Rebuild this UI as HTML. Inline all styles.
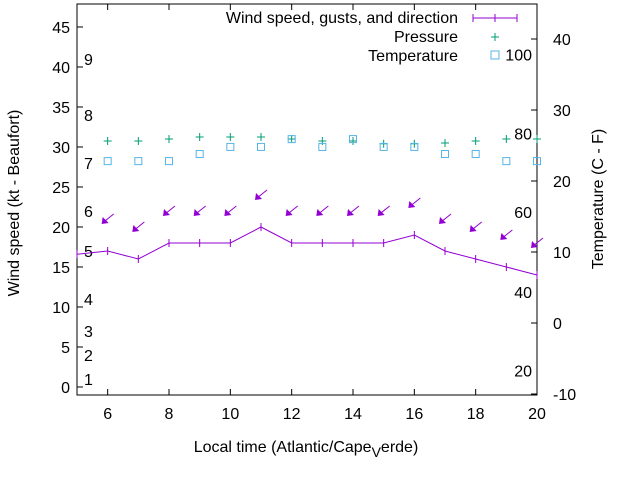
<!DOCTYPE html>
<html><head><meta charset="utf-8"><style>
body{margin:0;background:#fff}
svg{display:block;font-family:"Liberation Sans",sans-serif;font-size:16px}
</style></head><body>
<svg id="chart" width="640" height="480" viewBox="0 0 640 480">
<g id="axes"></g>
<g id="marks"></g>
<g>
<text x="458" y="23" text-anchor="end">Wind speed, gusts, and direction</text>
<line x1="473" y1="18" x2="517" y2="18" stroke="#9400d3" stroke-width="1"/>
<path d="M473 14v8M495 14v8M517 14v8" stroke="#9400d3"/>
<text x="458" y="42" text-anchor="end">Pressure</text>
<path d="M491 37h8M495 33v8" stroke="#009e73"/>
<text x="458" y="61" text-anchor="end">Temperature</text>
<rect x="491" y="51" width="8" height="8" fill="none" stroke="#56b4e9"/>
</g>
<text x="306" y="452" text-anchor="middle">Local time (Atlantic/Cape<tspan dy="5" font-size="14">V</tspan><tspan dy="-5">erde)</tspan></text>
<text transform="translate(19,203) rotate(-90)" text-anchor="middle">Wind speed (kt - Beaufort)</text>
<text transform="translate(603,199) rotate(-90)" text-anchor="middle">Temperature (C - F)</text>
</svg>
<script>
const hours=[6,7,8,9,10,11,12,13,14,15,16,17,18,19,20];
const windHours=[5,6,7,8,9,10,11,12,13,14,15,16,17,18,19,20];
const windSpeed=[16.6,17,16,18,18,18,20,18,18,18,18,19,17,16,15,14];
const gusts=[21,20,22,22,22,24,22,22,22,22,23,21,20,19,18];
const pressure=[30.75,30.75,31,31.25,31.25,31.25,31,30.75,30.75,30.4,30.4,30.5,30.75,31,31];
const temperature=[22.8,22.8,22.8,23.8,24.8,24.8,25.9,24.8,25.9,24.8,24.8,23.8,23.8,22.8,22.8];
const yTicks=[0,5,10,15,20,25,30,35,40,45];
const xTicks=[6,8,10,12,14,16,18,20];
const y2Ticks=[-10,0,10,20,30,40];
const beaufort=[["1",1],["2",4],["3",7],["4",11],["5",17],["6",22],["7",28],["8",34],["9",41]];
const fahr=[["20",-6.7],["40",4.4],["60",15.6],["80",26.7],["100",37.8]];
const L=77,R=537,T=4,B=395;
const x=h=>L+(h-5)/15*(R-L);
const y=v=>387-8*v;
const y2=t=>323-7.1*t;
const NS='http://www.w3.org/2000/svg';
function mk(tag,attrs,parent,txt){const e=document.createElementNS(NS,tag);for(const k in attrs)e.setAttribute(k,attrs[k]);if(txt!==undefined)e.textContent=txt;parent.appendChild(e);return e;}
const ax=document.getElementById('axes'),mg=document.getElementById('marks');
let b=mk('rect',{x:L,y:T,width:R-L,height:B-T,fill:'none',stroke:'#000'},ax);


yTicks.forEach(v=>{mk('line',{x1:L,x2:L+6,y1:y(v),y2:y(v),stroke:'#000'},ax);
 let t=mk('text',{x:L-7,y:y(v)+6,'text-anchor':'end'},ax,v);
 
 });
xTicks.forEach(h=>{mk('line',{x1:x(h),x2:x(h),y1:B,y2:B-6,stroke:'#000'},ax);mk('line',{x1:x(h),x2:x(h),y1:T,y2:T+6,stroke:'#000'},ax);
 let t=mk('text',{x:x(h),y:B+24,'text-anchor':'middle'},ax,h);
 
 });
y2Ticks.forEach(v=>{mk('line',{x1:R,x2:R-6,y1:y2(v),y2:y2(v),stroke:'#000'},ax);
 let t=mk('text',{x:R+16,y:y2(v)+6,'text-anchor':'start'},ax,v);
 
 });
beaufort.forEach(([s,v])=>{let t=mk('text',{x:84,y:y(v)+6},ax,s);
 
 });
fahr.forEach(([s,v])=>{let t=mk('text',{x:532,y:y2(v)+6,'text-anchor':'end'},ax,s);
 
 });
let pts=windHours.map((h,i)=>x(h)+','+y(windSpeed[i])).join(' ');
let wl=mk('polyline',{points:pts,fill:'none',stroke:'#9400d3'},mg);


windHours.forEach((h,i)=>{let p=mk('path',{d:`M${x(h)} ${y(windSpeed[i])-4}v8`,stroke:'#9400d3'},mg);
 
 });
hours.forEach((h,i)=>{const cx=x(h),cy=y(gusts[i]);
 const g=mk('g',{},mg);
 
 
 mk('line',{x1:cx+6,y1:cy-5,x2:cx-4,y2:cy+3,stroke:'#9400d3'},g);
 mk('path',{d:`M${cx-6} ${cy+5}l1 -7l6 6z`,fill:'#9400d3'},g);
 let p=mk('path',{d:`M${x(h)-4} ${y(pressure[i])}h8M${x(h)} ${y(pressure[i])-4}v8`,stroke:'#009e73'},mg);
 
 
 let r=mk('rect',{x:x(h)-3.5,y:y2(temperature[i])-3.5,width:7,height:7,fill:'none',stroke:'#56b4e9'},mg);
 
 });
</script>
</body></html>
